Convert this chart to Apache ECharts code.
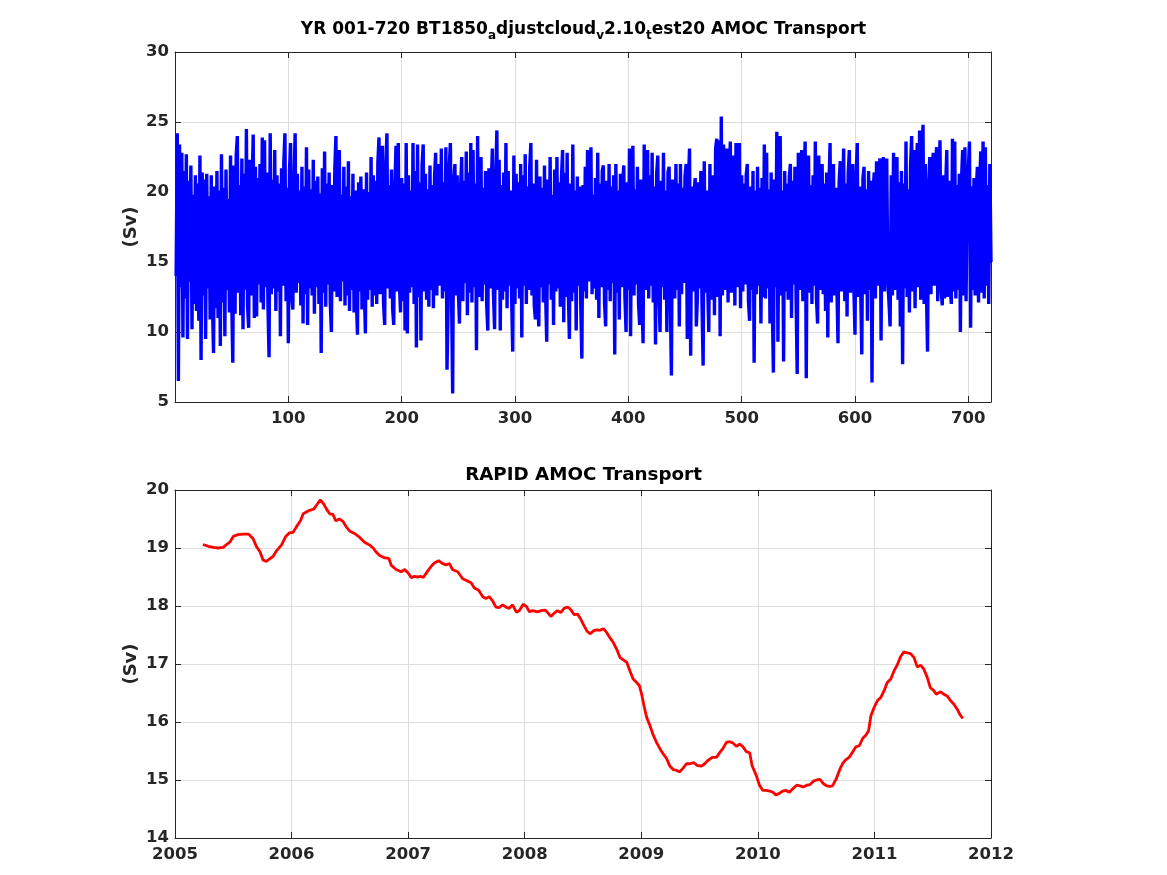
<!DOCTYPE html>
<html>
<head>
<meta charset="utf-8">
<title>AMOC Transport</title>
<script src="https://cdn.jsdelivr.net/npm/echarts@6/dist/echarts.min.js"></script>
<style>
  html, body { margin: 0; padding: 0; background: #fff; }
  #main { width: 1167px; height: 875px; }
</style>
</head>
<body>
<div id="main"></div>
<script>
// model run, monthly values (Sv), month 1..720
var modelSv = [
  14.0, 24.2, 6.5, 23.4, 13.2, 22.8, 9.6, 21.5, 12.4, 22.7, 9.5, 20.8, 13.6, 21.9, 10.2, 19.8, 12.0, 21.2, 11.5, 20.6,
  10.8, 22.6, 8.0, 21.4, 12.6, 20.9, 9.5, 21.3, 13.1, 19.7, 10.9, 21.2, 12.2, 8.5, 20.4, 11.7, 21.5, 11.0, 20.1, 9.0,
  22.7, 12.1, 20.3, 9.7, 21.6, 13.0, 19.5, 11.4, 22.6, 12.5, 7.8, 21.9, 11.3, 22.6, 24.0, 12.8, 20.5, 11.2, 22.4, 10.2,
  21.3, 13.0, 24.5, 11.9, 10.3, 22.3, 12.6, 20.4, 24.1, 11.0, 21.8, 11.1, 21.0, 13.4, 22.0, 12.1, 23.9, 11.6, 23.7, 13.2,
  21.4, 12.0, 8.2, 24.2, 12.7, 20.9, 13.1, 23.0, 11.5, 21.2, 12.9, 20.6, 9.7, 21.7, 13.3, 22.1, 24.2, 12.2, 20.3, 9.2,
  21.5, 23.5, 12.4, 11.6, 20.7, 24.2, 12.8, 21.3, 13.5, 20.1, 11.9, 21.8, 10.6, 20.4, 12.7, 23.2, 10.5, 21.6, 13.1, 20.2,
  12.6, 22.3, 11.3, 20.8, 13.2, 21.1, 12.0, 19.9, 8.5, 21.7, 12.8, 22.9, 11.8, 20.6, 13.4, 21.4, 12.1, 10.0, 20.5, 12.9,
  21.6, 24.0, 12.5, 20.9, 23.0, 12.2, 19.8, 13.6, 21.8, 11.9, 20.4, 12.6, 22.2, 11.5, 19.7, 13.0, 21.3, 11.4, 20.1, 12.4,
  9.8, 20.7, 12.9, 21.1, 11.6, 20.2, 13.3, 9.9, 21.4, 12.3, 20.0, 13.0, 22.5, 11.8, 21.2, 12.6, 20.8, 12.0, 22.1, 23.9,
  12.7, 20.9, 23.3, 12.1, 10.5, 21.8, 24.2, 13.1, 20.5, 12.4, 21.6, 11.7, 10.5, 20.3, 23.3, 12.9, 23.5, 13.4, 11.4, 21.0,
  12.2, 20.6, 10.1, 23.5, 9.9, 21.2, 12.8, 20.1, 13.2, 23.5, 12.0, 21.5, 8.9, 23.4, 12.5, 20.7, 9.4, 21.9, 23.4, 12.9,
  21.3, 12.3, 20.2, 11.8, 21.9, 13.0, 20.5, 11.7, 21.1, 22.8, 12.6, 19.9, 22.0, 13.3, 23.1, 12.4, 20.7, 12.9, 23.2, 7.3,
  12.0, 21.8, 23.5, 12.7, 5.6, 20.9, 22.0, 12.6, 21.2, 13.0, 10.6, 20.3, 22.5, 12.2, 20.8, 13.5, 22.9, 11.2, 21.4, 12.8,
  23.5, 12.1, 23.0, 13.2, 20.6, 8.7, 24.0, 12.5, 20.9, 22.5, 12.2, 20.3, 13.4, 21.5, 12.0, 10.1, 21.7, 13.1, 20.2, 23.1,
  12.7, 10.2, 21.0, 24.4, 13.0, 22.3, 10.1, 20.5, 12.3, 21.4, 12.9, 23.5, 11.7, 21.5, 13.3, 20.1, 12.5, 8.6, 22.6, 12.0,
  21.3, 13.1, 20.7, 12.4, 22.0, 9.6, 21.2, 13.3, 22.7, 12.0, 20.4, 13.0, 21.8, 23.5, 12.6, 20.6, 11.9, 10.9, 22.3, 12.7,
  10.4, 21.1, 13.2, 20.3, 12.1, 21.9, 12.8, 9.3, 20.9, 13.4, 22.5, 12.3, 19.8, 10.5, 21.6, 12.9, 22.5, 13.1, 20.7, 11.8,
  21.0, 23.0, 10.7, 21.4, 12.5, 22.8, 13.0, 9.5, 20.6, 12.2, 23.4, 12.8, 20.1, 10.1, 21.1, 13.3, 20.4, 12.0, 8.1, 20.5,
  12.9, 21.8, 12.4, 23.0, 13.6, 20.2, 23.2, 12.7, 19.8, 13.1, 21.0, 12.3, 22.8, 11.0, 20.6, 13.2, 21.5, 21.9, 12.1, 10.4,
  20.8, 13.0, 22.0, 12.2, 20.4, 13.5, 21.2, 8.4, 22.0, 12.8, 20.1, 10.9, 21.3, 13.2, 20.6, 21.9, 12.5, 10.0, 20.7, 13.0,
  23.1, 9.7, 21.0, 23.3, 12.6, 20.2, 13.4, 21.8, 12.0, 10.5, 20.9, 12.7, 9.2, 23.4, 13.0, 20.5, 23.0, 12.4, 21.2, 13.3,
  22.8, 12.1, 20.4, 9.1, 21.3, 22.6, 12.9, 10.0, 20.8, 13.2, 22.8, 12.3, 20.1, 10.0, 21.4, 21.8, 12.6, 6.9, 20.9, 13.1,
  12.4, 22.0, 13.0, 20.6, 10.4, 22.0, 12.7, 20.3, 13.5, 21.1, 22.0, 9.5, 20.8, 23.1, 8.3, 20.4, 12.9, 19.9, 21.0, 10.4,
  12.6, 20.7, 13.1, 21.5, 12.0, 7.6, 22.2, 12.8, 20.1, 13.4, 10.0, 22.0, 12.3, 20.6, 21.2, 11.2, 23.1, 23.8, 12.5, 23.7,
  9.7, 25.4, 12.6, 23.4, 13.0, 20.2, 23.1, 12.1, 21.0, 23.6, 12.8, 19.8, 22.6, 11.9, 23.5, 13.2, 20.5, 23.5, 11.7, 21.2,
  12.9, 20.6, 13.4, 21.2, 22.0, 12.2, 10.8, 20.4, 13.0, 21.5, 7.8, 20.1, 12.7, 21.8, 13.3, 20.3, 10.6, 21.0, 12.5, 23.4,
  12.4, 22.8, 13.1, 20.2, 10.6, 21.4, 12.0, 7.1, 20.9, 13.2, 24.3, 9.3, 20.5, 24.0, 12.6, 20.1, 7.9, 21.5, 12.9, 20.6,
  12.3, 21.0, 22.0, 11.0, 20.8, 13.4, 21.8, 12.5, 7.0, 22.8, 13.0, 20.4, 23.0, 12.2, 20.1, 23.6, 6.7, 21.3, 22.6, 12.8,
  20.5, 12.0, 21.2, 13.3, 23.6, 12.4, 10.6, 22.6, 13.0, 20.1, 22.0, 12.7, 20.6, 11.5, 21.4, 9.6, 20.2, 23.5, 12.1, 20.9,
  22.0, 12.6, 20.3, 13.4, 9.2, 20.7, 22.2, 12.9, 20.0, 23.1, 12.2, 20.6, 11.1, 21.3, 23.0, 12.8, 20.1, 22.0, 13.1, 9.8,
  21.2, 23.5, 12.5, 20.4, 13.2, 8.4, 21.0, 21.8, 12.7, 20.2, 10.8, 21.5, 13.0, 20.8, 6.4, 20.1, 21.4, 12.4, 22.2, 13.3,
  20.6, 22.4, 9.4, 20.9, 22.5, 12.9, 20.3, 22.4, 13.5, 12.1, 10.4, 21.2, 12.6, 22.8, 13.0, 20.4, 22.5, 12.3, 20.7, 10.4,
  21.5, 7.7, 20.6, 13.1, 23.6, 12.5, 20.2, 11.4, 21.8, 24.0, 12.9, 23.0, 11.7, 20.9, 23.5, 13.2, 24.4, 12.3, 20.7, 24.8,
  12.0, 22.0, 13.1, 8.6, 20.5, 22.5, 12.7, 20.1, 22.8, 13.3, 21.4, 23.2, 12.2, 20.6, 23.7, 13.0, 11.9, 21.2, 12.4, 20.3,
  23.0, 12.5, 20.8, 13.2, 12.0, 23.8, 12.9, 23.6, 12.4, 20.5, 13.0, 21.3, 10.0, 20.9, 23.0, 12.6, 23.2, 12.2, 20.7, 21.6,
  23.6, 10.3, 20.4, 13.0, 21.0, 12.6, 20.2, 21.8, 12.1, 20.6, 22.9, 12.8, 23.6, 12.4, 23.2, 13.3, 20.5, 12.0, 22.0, 15.0
];

// RAPID 26N, smoothed
var rapidYear = [
  2005.24, 2005.285, 2005.33, 2005.37, 2005.385, 2005.414, 2005.442, 2005.47, 2005.50, 2005.54,
  2005.59, 2005.63, 2005.67, 2005.70, 2005.73, 2005.756, 2005.785, 2005.81, 2005.84, 2005.87,
  2005.913, 2005.95, 2005.98, 2006.013, 2006.04, 2006.076, 2006.10, 2006.127, 2006.155, 2006.19,
  2006.218, 2006.247, 2006.275, 2006.30, 2006.327, 2006.355, 2006.378, 2006.41, 2006.44, 2006.47,
  2006.50, 2006.54, 2006.58, 2006.626, 2006.67, 2006.70, 2006.726, 2006.755, 2006.80, 2006.835,
  2006.855, 2006.897, 2006.94, 2006.97, 2007.00, 2007.026, 2007.054, 2007.083, 2007.11, 2007.13,
  2007.17, 2007.20, 2007.225, 2007.262, 2007.297, 2007.325, 2007.354, 2007.38, 2007.425, 2007.468,
  2007.51, 2007.54, 2007.568, 2007.605, 2007.64, 2007.667, 2007.696, 2007.724, 2007.753, 2007.78,
  2007.81, 2007.84, 2007.867, 2007.896, 2007.93, 2007.953, 2007.987, 2008.016, 2008.04, 2008.067,
  2008.11, 2008.14, 2008.175, 2008.195, 2008.224, 2008.25, 2008.28, 2008.31, 2008.338, 2008.368,
  2008.39, 2008.425, 2008.453, 2008.476, 2008.504, 2008.533, 2008.56, 2008.59, 2008.618, 2008.647,
  2008.675, 2008.704, 2008.732, 2008.76, 2008.79, 2008.818, 2008.846, 2008.875, 2008.903, 2008.93,
  2008.96, 2008.983, 2009.003, 2009.023, 2009.046, 2009.074, 2009.10, 2009.13, 2009.16, 2009.188,
  2009.217, 2009.245, 2009.273, 2009.30, 2009.33, 2009.36, 2009.387, 2009.416, 2009.45, 2009.48,
  2009.516, 2009.544, 2009.573, 2009.61, 2009.644, 2009.672, 2009.70, 2009.73, 2009.758, 2009.786,
  2009.815, 2009.843, 2009.87, 2009.90, 2009.93, 2009.95, 2009.986, 2010.014, 2010.043, 2010.07,
  2010.10, 2010.128, 2010.157, 2010.185, 2010.214, 2010.242, 2010.27, 2010.30, 2010.333, 2010.36,
  2010.39, 2010.42, 2010.447, 2010.476, 2010.504, 2010.533, 2010.56, 2010.59, 2010.618, 2010.64,
  2010.67, 2010.70, 2010.726, 2010.755, 2010.783, 2010.812, 2010.84, 2010.87, 2010.90, 2010.926,
  2010.95, 2010.97, 2010.997, 2011.026, 2011.054, 2011.083, 2011.11, 2011.14, 2011.168, 2011.197,
  2011.225, 2011.253, 2011.282, 2011.31, 2011.34, 2011.367, 2011.396, 2011.424, 2011.453, 2011.48,
  2011.51, 2011.53, 2011.567, 2011.595, 2011.624, 2011.652, 2011.68, 2011.71, 2011.73, 2011.758
];
var rapidSv = [
  19.06, 19.03, 19.01, 19.00, 18.98, 19.01, 19.06, 19.10, 19.20, 19.23,
  19.24, 19.24, 19.16, 19.02, 18.93, 18.79, 18.77, 18.81, 18.85, 18.95,
  19.05, 19.20, 19.26, 19.27, 19.36, 19.47, 19.59, 19.62, 19.65, 19.67,
  19.75, 19.83, 19.76, 19.67, 19.59, 19.58, 19.47, 19.50, 19.46, 19.36,
  19.29, 19.25, 19.19, 19.10, 19.05, 19.00, 18.93, 18.87, 18.83, 18.82,
  18.70, 18.63, 18.59, 18.63, 18.57, 18.49, 18.51, 18.50, 18.51, 18.49,
  18.61, 18.69, 18.74, 18.78, 18.73, 18.71, 18.73, 18.63, 18.59, 18.47,
  18.43, 18.40, 18.31, 18.27, 18.16, 18.13, 18.16, 18.09, 17.98, 17.97,
  18.02, 17.98, 17.96, 18.02, 17.89, 17.92, 18.03, 17.99, 17.90, 17.92,
  17.90, 17.92, 17.93, 17.89, 17.82, 17.87, 17.92, 17.89, 17.96, 17.98,
  17.95, 17.85, 17.86, 17.79, 17.68, 17.57, 17.52, 17.57, 17.59, 17.58,
  17.61, 17.54, 17.45, 17.37, 17.25, 17.11, 17.07, 17.03, 16.88, 16.74,
  16.68, 16.63, 16.48, 16.28, 16.08, 15.94, 15.79, 15.65, 15.54, 15.45,
  15.37, 15.24, 15.18, 15.17, 15.14, 15.21, 15.28, 15.28, 15.30, 15.25,
  15.24, 15.28, 15.34, 15.39, 15.39, 15.47, 15.54, 15.65, 15.66, 15.64,
  15.58, 15.62, 15.58, 15.49, 15.47, 15.25, 15.08, 14.91, 14.82, 14.82,
  14.81, 14.79, 14.74, 14.77, 14.81, 14.82, 14.79, 14.85, 14.91, 14.90,
  14.88, 14.91, 14.92, 14.98, 15.00, 15.01, 14.94, 14.90, 14.89, 14.90,
  15.01, 15.17, 15.28, 15.35, 15.39, 15.48, 15.57, 15.59, 15.72, 15.77,
  15.85, 16.11, 16.25, 16.37, 16.42, 16.54, 16.68, 16.74, 16.88, 16.99,
  17.13, 17.21, 17.19, 17.18, 17.11, 16.95, 16.98, 16.91, 16.77, 16.59,
  16.54, 16.48, 16.52, 16.48, 16.45, 16.37, 16.31, 16.22, 16.14, 16.06
];

var topTicks = [5, 30, 5];     // min, max, step
var botTicks = [14, 20, 1];

var modelData = modelSv.map(function (v, i) { return [i + 1, v]; });
var rapidData = rapidSv.map(function (v, i) { return [rapidYear[i], v]; });

var txt = '#262626';
var gridColor = '#dedede';
var labelFont = { color: txt, fontSize: 16.5, fontWeight: 'bold', fontFamily: 'DejaVu Sans' };

function bottomAxis(idx, min, max, interval, fmt) {
    return {
        type: 'value', gridIndex: idx, min: min, max: max, interval: interval,
        axisLine: { show: true, onZero: false, lineStyle: { color: txt, width: 1 } },
        axisTick: { inside: true, length: 6, lineStyle: { color: txt } },
        axisLabel: Object.assign({ margin: 8, formatter: fmt }, labelFont),
        splitLine: { show: true, lineStyle: { color: gridColor, width: 1 } }
    };
}
function topAxis(idx, min, max, interval) {
    return {
        type: 'value', gridIndex: idx, position: 'top', min: min, max: max, interval: interval,
        axisLine: { show: true, onZero: false, lineStyle: { color: txt, width: 1 } },
        axisTick: { inside: true, length: 6, lineStyle: { color: txt } },
        axisLabel: { show: false },
        splitLine: { show: false }
    };
}
function leftAxis(idx, t) {
    return {
        type: 'value', gridIndex: idx, min: t[0], max: t[1], interval: t[2],
        name: '(Sv)', nameLocation: 'middle', nameRotate: 90, nameGap: 35,
        nameMoveOverlap: false,
        nameTextStyle: { color: txt, fontSize: 18, fontWeight: 'bold', fontFamily: 'DejaVu Sans' },
        axisLine: { show: true, onZero: false, lineStyle: { color: txt, width: 1 } },
        axisTick: { inside: true, length: 6, lineStyle: { color: txt } },
        axisLabel: Object.assign({ margin: 6 }, labelFont),
        splitLine: { show: true, lineStyle: { color: gridColor, width: 1 } }
    };
}
function rightAxis(idx, t) {
    return {
        type: 'value', gridIndex: idx, position: 'right', min: t[0], max: t[1], interval: t[2],
        axisLine: { show: true, onZero: false, lineStyle: { color: txt, width: 1 } },
        axisTick: { inside: true, length: 6, lineStyle: { color: txt } },
        axisLabel: { show: false },
        splitLine: { show: false }
    };
}

var option = {
    animation: false,
    backgroundColor: '#fff',
    title: [{
        text: '{n|YR 001-720 BT1850}{s|a}{n|djustcloud}{s|v}{n|2.10}{s|t}{n|est20 AMOC Transport}',
        left: 'center', top: 13,
        textStyle: {
            rich: {
                n: { color: '#000', fontSize: 17, fontWeight: 'bold', fontFamily: 'DejaVu Sans' },
                s: { color: '#000', fontSize: 12, fontWeight: 'bold', fontFamily: 'DejaVu Sans', padding: [12, 0, 0, 0] }
            }
        }
    }, {
        text: 'RAPID AMOC Transport',
        left: 'center', top: 461,
        textStyle: { color: '#000', fontSize: 18.3, fontWeight: 'bold', fontFamily: 'DejaVu Sans' }
    }],
    grid: [
        { left: 175, top: 52, width: 816, height: 350 },
        { left: 175, top: 490, width: 816, height: 348 }
    ],
    xAxis: [
        bottomAxis(0, 0, 720, 100, function (v) { return (v === 0 || v % 100) ? '' : String(v); }),
        topAxis(0, 0, 720, 100),
        bottomAxis(1, 2005, 2012, 1, function (v) { return String(v); }),
        topAxis(1, 2005, 2012, 1)
    ],
    yAxis: [
        leftAxis(0, topTicks),
        rightAxis(0, topTicks),
        leftAxis(1, botTicks),
        rightAxis(1, botTicks)
    ],
    series: [{
        name: 'model',
        type: 'line',
        xAxisIndex: 0, yAxisIndex: 0,
        showSymbol: false,
        lineStyle: { color: '#0000ff', width: 3.4 },
        data: modelData
    }, {
        name: 'RAPID',
        type: 'line',
        xAxisIndex: 2, yAxisIndex: 2,
        showSymbol: false,
        lineStyle: { color: '#ff0000', width: 2.8 },
        data: rapidData
    }]
};

var chart = echarts.init(document.getElementById('main'));
chart.setOption(option);
</script>
</body>
</html>
